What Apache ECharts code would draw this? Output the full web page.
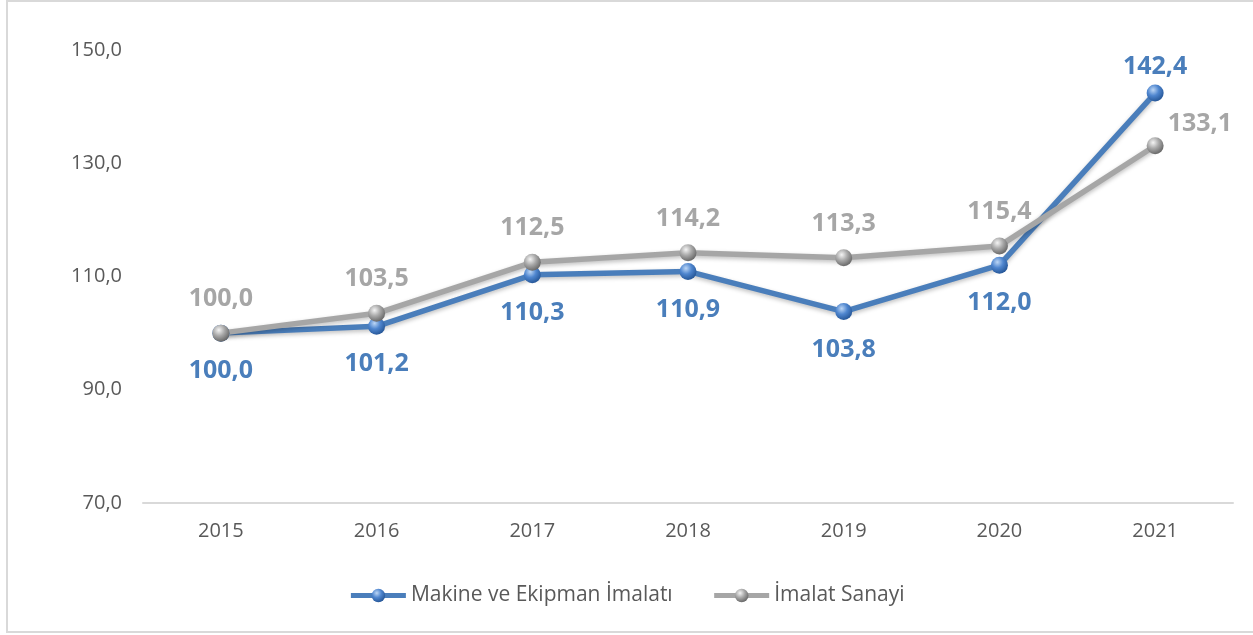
<!DOCTYPE html>
<html>
<head>
<meta charset="utf-8">
<script src="https://cdn.jsdelivr.net/npm/echarts@6/dist/echarts.min.js"></script>
<style>
  html, body { margin: 0; padding: 0; background: #fff; }
  #main { width: 1253px; height: 635px; }
</style>
</head>
<body>
<div id="main"></div>
<script>
// veriler
const years = ['2015', '2016', '2017', '2018', '2019', '2020', '2021'];
const makineValues = [100.0, 101.2, 110.3, 110.9, 103.8, 112.0, 142.4];
const imalatValues = [100.0, 103.5, 112.5, 114.2, 113.3, 115.4, 133.1];
const seriesNames = ['Makine ve Ekipman İmalatı', 'İmalat Sanayi'];

const blue = '#4a7ebb';
const gray = '#a6a6a6';
const fmt = v => Number(v).toFixed(1).replace('.', ',');

function sphere(light, mid, dark) {
    return {
        type: 'radial', x: 0.38, y: 0.32, r: 0.75,
        colorStops: [
            { offset: 0, color: light },
            { offset: 0.45, color: mid },
            { offset: 1, color: dark }
        ]
    };
}

const myChart = echarts.init(document.getElementById('main'));

// Son noktaların etiketleri farklı konumda
const makineData = makineValues.map((v, i) => {
    if (i === makineValues.length - 1) {
        return { value: v, label: { position: 'top', distance: 5 } };
    }
    return v;
});
const imalatData = imalatValues.map((v, i) => {
    if (i === imalatValues.length - 1) {
        return { value: v, label: { position: 'right', distance: 4, offset: [0, -22] } };
    }
    return v;
});

myChart.setOption({
    backgroundColor: '#fff',
    textStyle: { fontFamily: 'Open Sans' },
    graphic: [{
        type: 'rect',
        shape: { x: 7, y: 1, width: 1300, height: 631 },
        style: { fill: 'none', stroke: '#d9d9d9', lineWidth: 2 },
        silent: true
    }],
    grid: { left: 143, right: 20, top: 50, bottom: 132 },
    legend: {
        bottom: 24,
        left: 'center',
        itemWidth: 55,
        itemHeight: 17,
        itemGap: 39,
        lineStyle: { width: 5 },
        textStyle: { fontSize: 21, color: '#595959', fontFamily: 'Open Sans', padding: [0, 0, 0, 0] },
        data: seriesNames
    },
    xAxis: {
        type: 'category',
        data: years,
        boundaryGap: true,
        axisLine: { lineStyle: { color: '#d9d9d9', width: 2 } },
        axisTick: { show: false },
        axisLabel: { fontSize: 20, color: '#595959', margin: 18 }
    },
    yAxis: {
        type: 'value',
        min: 70,
        max: 150,
        interval: 20,
        axisLine: { show: false },
        axisTick: { show: false },
        splitLine: { show: false },
        axisLabel: { fontSize: 20, color: '#595959', margin: 21, formatter: fmt }
    },
    series: [
        {
            name: seriesNames[0],
            type: 'line',
            data: makineData,
            symbol: 'circle',
            symbolSize: 17,
            lineStyle: { color: blue, width: 5.5, shadowColor: 'rgba(0,0,0,0.25)', shadowBlur: 4, shadowOffsetY: 2 },
            itemStyle: { color: sphere('#bcd6f5', '#4f86cf', '#1f4f8f'), borderWidth: 0 },
            label: {
                show: true, position: 'bottom', distance: 17,
                fontSize: 25, fontWeight: 'bold', color: blue,
                formatter: p => fmt(p.value)
            }
        },
        {
            name: seriesNames[1],
            type: 'line',
            data: imalatData,
            symbol: 'circle',
            symbolSize: 17,
            lineStyle: { color: gray, width: 5.5, shadowColor: 'rgba(0,0,0,0.25)', shadowBlur: 4, shadowOffsetY: 2 },
            itemStyle: { color: sphere('#f4f4f4', '#a9a9a9', '#5e5e5e'), borderWidth: 0 },
            label: {
                show: true, position: 'top', distance: 13,
                fontSize: 25, fontWeight: 'bold', color: gray,
                formatter: p => fmt(p.value)
            }
        }
    ]
});
</script>
</body>
</html>
